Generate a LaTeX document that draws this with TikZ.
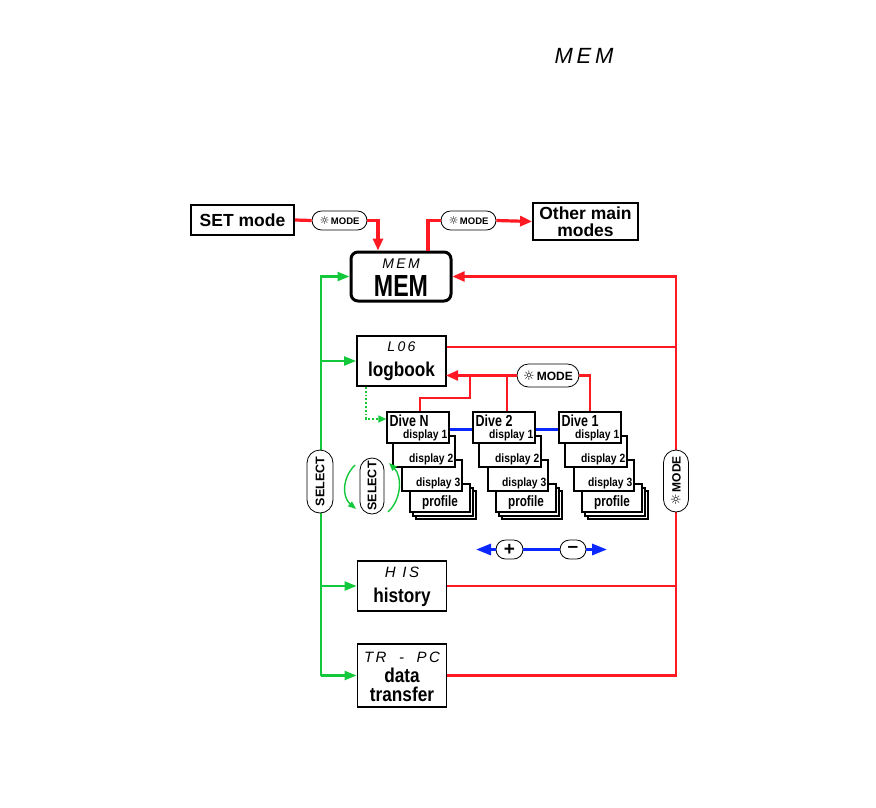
\documentclass[tikz,border=0pt]{standalone}
\usepackage{fontspec}
\setmainfont{Liberation Sans}
\newfontfamily\nar[FakeStretch=0.86]{Liberation Sans}
\newfontfamily\narr[FakeStretch=0.78]{Liberation Sans}
\newfontfamily\narrr[FakeStretch=0.76]{Liberation Sans}
\newfontfamily\lcd{Liberation Sans}
\newfontfamily\dv{DejaVu Sans}
\usetikzlibrary{arrows.meta,shapes.misc,calc}
\definecolor{rd}{RGB}{255,25,35}
\definecolor{gn}{RGB}{20,200,60}
\definecolor{bl}{RGB}{10,40,255}
\tikzset{
  box/.style={draw,line width=1.8pt,fill=white,inner sep=0pt},
  card/.style={draw,line width=1.5pt,fill=white,inner sep=0pt},
  pill/.style={draw,rounded rectangle,line width=0.8pt,fill=white,inner sep=0pt,font=\bfseries\nar},
  redln/.style={draw=rd,line width=2.2pt},
  redthick/.style={draw=rd,line width=3.2pt},
  greenln/.style={draw=gn,line width=2.2pt},
  blueln/.style={draw=bl,line width=3pt},
  rtip/.style={-{Triangle[length=12pt,width=10pt]}},
  gtip/.style={-{Triangle[length=12pt,width=9pt]}},
  lcdtxt/.style={font=\lcd\itshape\fontsize{15}{15}\selectfont,inner sep=0pt},
  bigtxt/.style={font=\nar\bfseries\fontsize{20}{20}\selectfont,inner sep=0pt},
  cardtxt/.style={font=\nar\bfseries\fontsize{12}{12}\selectfont,inner sep=0pt},
}
\begin{document}
\begin{tikzpicture}[x=1pt,y=-1pt]
\useasboundingbox (0,0) rectangle (876,807);

% top title
\node[font=\lcd\itshape\fontsize{22}{22}\selectfont,inner sep=0pt] (title) at (584,56) {M\,E\,M};

% main boxes
\node[box,minimum width=103pt,minimum height=30pt,font=\bfseries\fontsize{17.5}{17.5}\selectfont] (set) at (242.5,220) {SET mode};
\node[box,minimum width=105pt,minimum height=37pt,align=center,font=\bfseries\fontsize{17.5}{17}\selectfont] (other) at (585.5,221.5) {Other main\\modes};
\node[box,line width=3pt,rounded corners=7pt,minimum width=100pt,minimum height=49pt] (mem) at (401,276.5) {};
\node[lcdtxt,font=\lcd\itshape\fontsize{14}{14}\selectfont] (memlcd) at (401,264) {M\,E\,M};
\node[font=\narrr\bfseries\fontsize{30.5}{30.5}\selectfont,inner sep=0pt] (memtxt) at (401,286.5) {MEM};

\node[box,minimum width=89pt,minimum height=50pt] (log) at (401.5,361) {};
\node[lcdtxt,font=\lcd\itshape\fontsize{14}{14}\selectfont] (loglcd) at (401.5,347) {L\,0\,6};
\node[bigtxt] (logtxt) at (401.5,371) {logbook};

\node[box,minimum width=89pt,minimum height=50pt] (his) at (402,586) {};
\node[lcdtxt] (hislcd) at (402,572) {H \,I\,S};
\node[bigtxt] (histxt) at (402,597) {history};

\node[box,minimum width=89pt,minimum height=63pt] (dt) at (402,675.5) {};
\node[lcdtxt] (dtlcd) at (402,657) {T\,R \ \ - \ \ P\,C};
\node[bigtxt] (dttxt1) at (402,675) {data};
\node[bigtxt] (dttxt2) at (402,694) {transfer};

% dive stacks
\foreach \dx/\nm/\lb in {0/N/Dive N,86/T/Dive 2,172/O/Dive 1}{
  \begin{scope}[xshift=\dx pt]
    \node[card,minimum width=60pt,minimum height=28pt] (pc\nm) at (446,505) {};
    \node[card,minimum width=60pt,minimum height=28pt] (pb\nm) at (443,502) {};
    \node[card,minimum width=60pt,minimum height=28pt] (pa\nm) at (440,498) {};
    \node[font=\narr\bfseries\fontsize{15}{15}\selectfont,inner sep=0pt] (pt\nm) at (440,503) {profile};
    \node[card,minimum width=60pt,minimum height=31pt] (d3\nm) at (432,475.5) {};
    \node[cardtxt,anchor=south east] (d3t\nm) at (460.5,489.5) {display 3};
    \node[card,minimum width=62pt,minimum height=31pt] (d2\nm) at (424,451.5) {};
    \node[cardtxt,anchor=south east] (d2t\nm) at (453.5,465.5) {display 2};
    \node[card,minimum width=62pt,minimum height=31pt] (d1\nm) at (418,427.5) {};
    \node[cardtxt,anchor=south east] (d1t\nm) at (447.5,441.5) {display 1};
    \node[font=\narr\bfseries\fontsize{16}{16}\selectfont,inner sep=0pt,anchor=north west] (dv\nm) at (389.5,414.5) {\lb};
  \end{scope}
}

% pills
\node[pill,minimum width=55pt,minimum height=19pt,font=\bfseries\fontsize{9.5}{9.5}\selectfont] (p1) at (339.5,220.5) {{\dv\fontsize{11}{11}\selectfont ☼}\,MODE};
\node[pill,minimum width=55pt,minimum height=19pt,font=\bfseries\fontsize{9.5}{9.5}\selectfont] (p2) at (468.5,220.5) {{\dv\fontsize{11}{11}\selectfont ☼}\,MODE};
\node[pill,minimum width=62pt,minimum height=23pt,font=\bfseries\fontsize{12}{12}\selectfont] (p3) at (548,375.5) {{\dv\fontsize{13}{13}\selectfont ☼}\,MODE};

% red connectors top
\coordinate (c1) at (378,220.5);
\coordinate (c2) at (428,220.5);
\draw[redthick] (set.east) -- (p1.west);
\draw[redthick,rtip] (p1.east) -- (c1) -- (c1 |- mem.north);
\draw[redthick] (c2 |- mem.north) -- (c2) -- (p2.west);
\draw[redthick,rtip] (p2.east) -- (other.west);

% red right loop
\coordinate (rb) at (676,675.5);
\coordinate (rl) at (676,347);
\draw[redln,rtip] (dt.east) -- (rb) -- (rb |- mem.east) -- (mem.east);
\draw[redln] (rl -| log.east) -- (rl);
\draw[redln] (his.east) -- (his.east -| rb);
\node[pill,rotate=90,minimum width=62pt,minimum height=25pt,font=\bfseries\fontsize{12}{12}\selectfont] (p4) at (676,481) {{\dv\fontsize{13}{13}\selectfont ☼}\,MODE};

% red logbook connectors
\coordinate (l0) at (446,375.5);
\coordinate (l1) at (470,375.5);
\coordinate (l2) at (470,398);
\coordinate (l3) at (420,398);
\coordinate (l4) at (507,375.5);
\coordinate (l5) at (590,375.5);
\draw[redln,rtip] (p3.west) -- (l0);
\draw[redln] (l1) -- (l2) -- (l3) -- (l3 |- d1N.north);
\draw[redln] (l4) -- (l4 |- d1T.north);
\draw[redln] (p3.east) -- (l5) -- (l5 |- d1O.north);

% blue
\coordinate (bln) at (0,429);
\draw[blueln] (d1N.east |- bln) -- (d1T.west |- bln);
\draw[blueln] (d1T.east |- bln) -- (d1O.west |- bln);
\node[pill,minimum width=27pt,minimum height=19pt,font=\bfseries\fontsize{19}{19}\selectfont] (plus) at (509.5,549.5) {+};
\node[pill,minimum width=26pt,minimum height=19pt,font=\bfseries\fontsize{19}{19}\selectfont] (minus) at (573,549.5) {–};
\coordinate (bl1) at (476,549.5);
\coordinate (bl2) at (607,549.5);
\draw[blueln,-{Triangle[length=15pt,width=11pt]}] (plus.west) -- (bl1);
\draw[blueln] (plus.east) -- (minus.west);
\draw[blueln,-{Triangle[length=15pt,width=11pt]}] (minus.east) -- (bl2);

% green
\coordinate (gb) at (321,675.5);
\draw[greenln,gtip] (gb) |- (mem.west);
\draw[greenln,gtip] (gb) -- (dt.west);
\draw[greenln,gtip] (log.west -| gb) -- (log.west);
\draw[greenln,gtip] (his.west -| gb) -- (his.west);
\node[pill,rotate=90,minimum width=63pt,minimum height=26pt,font=\bfseries\fontsize{12.5}{12.5}\selectfont] (sel1) at (320,481.5) {SELECT};

% dotted green
\coordinate (gd1) at (366,387);
\coordinate (gd2) at (366,419);
\draw[draw=gn,line width=1.8pt,dotted,-{Triangle[length=8pt,width=7pt]}] (gd1) -- (gd2) -- (gd2 -| d1N.west);

% small select with cycle
\node[pill,rotate=90,minimum width=56pt,minimum height=24pt,font=\bfseries\fontsize{12.5}{12.5}\selectfont] (sel2) at (372,486) {SELECT};
\coordinate (a1) at (355,465);
\coordinate (a2) at (356,509);
\coordinate (a3) at (388,512);
\coordinate (a4) at (389,463);
\draw[draw=gn,line width=1.4pt,-{Triangle[length=8pt,width=6pt]}] (a1) .. controls (342,478) and (342,497) .. (a2);
\draw[draw=gn,line width=1.4pt,-{Triangle[length=8pt,width=6pt]}] (a3) .. controls (402,499) and (402,476) .. (a4);
\end{tikzpicture}
\end{document}
